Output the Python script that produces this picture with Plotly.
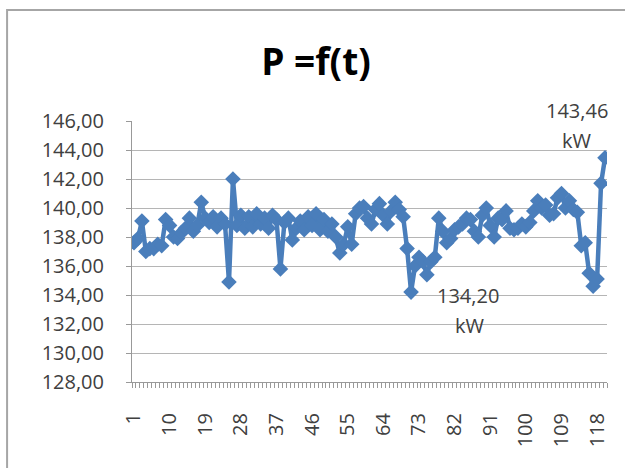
import plotly.graph_objects as go

# Power readings P (kW) for each time step t = 1..120
t = list(range(1, 121))
p = [
    137.6, 137.9, 139.1, 137.0, 137.2, 137.2, 137.5, 137.4, 139.2, 138.8,
    138.0, 137.9, 138.3, 138.6, 139.3, 138.4, 138.8, 140.4, 139.3, 139.0,
    139.4, 138.7, 139.3, 138.9, 134.9, 142.0, 138.8, 139.5, 138.6, 139.4,
    138.7, 139.6, 138.9, 139.3, 138.6, 139.5, 139.2, 135.8, 139.0, 139.3,
    137.8, 138.6, 139.1, 138.5, 139.4, 138.8, 139.6, 138.5, 139.2, 138.4,
    138.9, 138.0, 136.9, 137.5, 138.7, 137.5, 139.6, 140.0, 140.1, 139.3,
    138.9, 139.9, 140.3, 139.5, 138.9, 139.8, 140.4, 139.9, 139.4, 137.2,
    134.2, 136.0, 136.6, 136.3, 135.4, 136.3, 136.6, 139.3, 138.4, 137.6,
    137.9, 138.5, 138.7, 138.9, 139.3, 139.2, 138.4, 138.0, 139.5, 140.0,
    138.8, 138.0, 139.3, 139.2, 139.8, 138.6, 138.5, 138.6, 138.9, 138.7,
    139.0, 139.8, 140.5, 140.0, 140.2, 139.5, 139.6, 140.7, 141.0, 140.0,
    140.5, 139.9, 139.7, 137.4, 137.6, 135.5, 134.6, 135.1, 141.7, 143.46,
]
x_tick_labels = [1, 10, 19, 28, 37, 46, 55, 64, 73, 82, 91, 100, 109, 118]
y_ticks = [128, 130, 132, 134, 136, 138, 140, 142, 144, 146]

BLUE = "#4a7ebb"
GRID = "#b5b5b5"
FONT = "Open Sans"


def fmt(v):
    return f"{v:.2f}".replace(".", ",")


fig = go.Figure()
fig.add_trace(go.Scatter(
    x=t, y=p, mode="lines+markers",
    line=dict(color=BLUE, width=4.5),
    marker=dict(symbol="diamond", size=12, color=BLUE),
    hoverinfo="x+y", showlegend=False,
))

# value labels for the minimum and the last reading
i_min = p.index(min(p))
i_last = len(p) - 1
label_specs = [
    (i_last, -28, 47, -28, 17),
    (i_min, 57, -3, 59, -33),
]
for idx, dx1, dy1, dx2, dy2 in label_specs:
    fig.add_annotation(x=t[idx], y=p[idx], text=fmt(p[idx]), showarrow=False,
                       xshift=dx1, yshift=dy1,
                       font=dict(family=FONT, size=20, color="#404040"))
    fig.add_annotation(x=t[idx], y=p[idx], text="kW", showarrow=False,
                       xshift=dx2, yshift=dy2,
                       font=dict(family=FONT, size=20, color="#404040"))

# chart frame
fig.add_shape(type="rect", xref="paper", yref="paper",
              x0=-0.263, x1=1.08, y0=-0.4, y1=1.425,
              line=dict(color="#a6a6a6", width=2), layer="below")

fig.update_layout(
    width=625, height=468,
    margin=dict(l=132, r=18, t=121, b=86),
    paper_bgcolor="white", plot_bgcolor="white",
    separators=", ",
    title=dict(text="<b>P =f(t)</b>", x=316 / 625, xanchor="center",
               y=1 - 62 / 468, yanchor="middle",
               font=dict(family=FONT, size=37, color="#000000")),
    font=dict(family=FONT, size=20, color="#404040"),
)
fig.update_xaxes(
    range=[0.5, 120.5], tickmode="array", tickvals=x_tick_labels,
    ticktext=[str(v) for v in x_tick_labels], tickangle=-90,
    ticks="", ticklabelstandoff=22,
    minor=dict(tick0=0.5, dtick=1, ticks="outside", ticklen=5,
               tickcolor="#999999", showgrid=False),
    showline=True, linecolor="#999999", linewidth=1,
    showgrid=False, zeroline=False,
    tickfont=dict(family=FONT, size=20, color="#404040"),
)
fig.update_yaxes(
    range=[128, 146], tickmode="array", tickvals=y_ticks,
    tickformat=".2f", ticks="outside", ticklen=5, tickcolor="#999999",
    ticklabelstandoff=18,
    showline=True, linecolor="#999999", linewidth=1,
    showgrid=True, gridcolor=GRID, gridwidth=1, zeroline=False,
    tickfont=dict(family=FONT, size=20, color="#404040"),
)

fig.write_html("out.html")
